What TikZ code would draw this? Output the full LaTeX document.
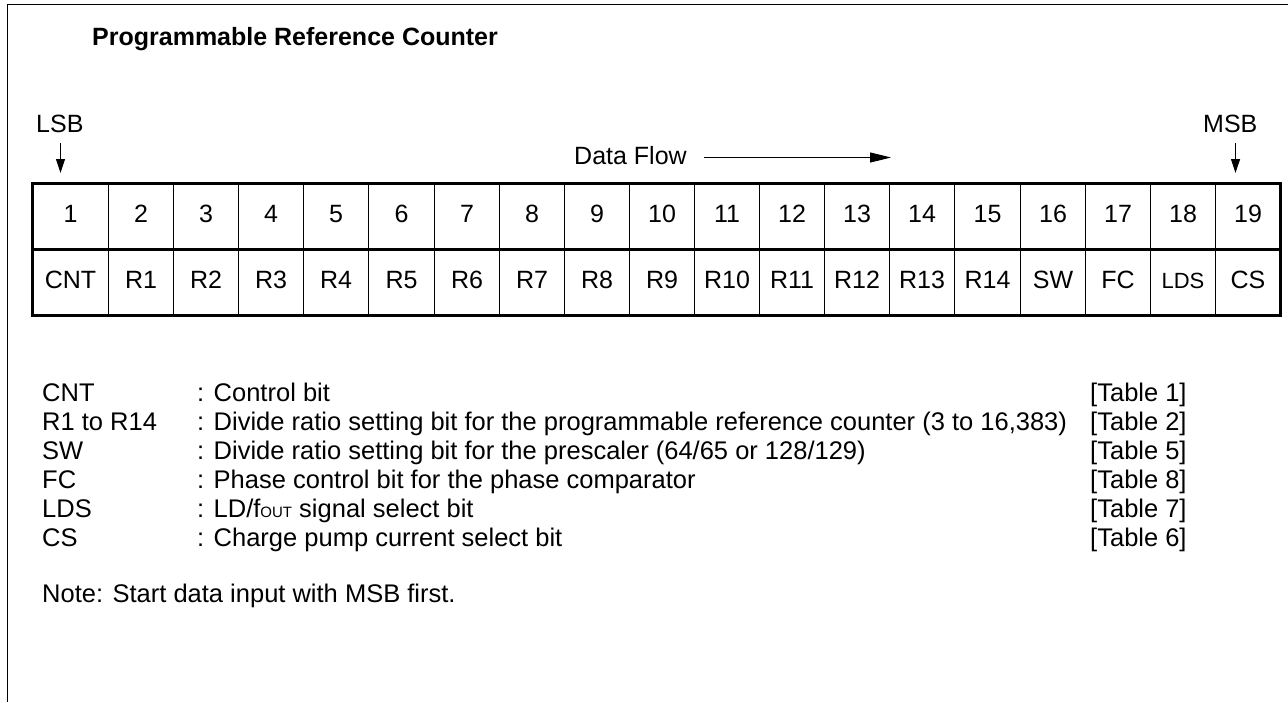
\documentclass[tikz,border=0pt]{standalone}
\usepackage{fontspec}
\setmainfont{Liberation Sans}
\usetikzlibrary{arrows.meta}
\begin{document}
\begin{tikzpicture}[x=1pt,y=-1pt,
  thinline/.style={line width=1pt},
  thickline/.style={line width=3pt},
  arr/.style={line width=1.1pt,-{Triangle[length=14pt,width=9pt]}},
  cell/.style={inner sep=0pt,minimum height=66pt,text height=18pt,text depth=6pt,font=\fontsize{25}{25}\selectfont},
  lab/.style={inner sep=0pt,anchor=base west,font=\fontsize{25.5}{25.5}\selectfont},
  txt/.style={inner sep=0pt,anchor=base west,font=\fontsize{25}{25}\selectfont}]
\useasboundingbox (0,0) rectangle (1288,702);
% frame
\coordinate (fbl) at (7.5,702);
\coordinate (ftl) at (7.5,4.5);
\coordinate (ftr) at (1288,4.5);
\draw[thinline] (fbl) -- (ftl) -- (ftr);
% title
\node[inner sep=0pt,anchor=base west,font=\fontsize{25}{25}\selectfont\bfseries] (title) at (92,45) {Programmable Reference Counter};
% cells
\def\cw{65.111}
\node[cell,minimum width=75pt] (n1) at (70.5,216.5) {1};
\node[cell,minimum width=75pt] (b1) at (70.5,282.5) {CNT};
\foreach \i/\l in {2/R1,3/R2,4/R3,5/R4,6/R5,7/R6,8/R7,9/R8,10/R9,11/R10,12/R11,13/R12,14/R13,15/R14,16/SW,17/FC,18/{\fontsize{22}{22}\selectfont LDS},19/CS}{
  \pgfmathsetmacro{\xl}{round(108+\cw*(\i-2))+0.5}
  \pgfmathsetmacro{\xr}{\i==19 ? 1280.5 : round(108+\cw*(\i-1))+0.5}
  \pgfmathsetmacro{\xc}{(\xl+\xr)/2}
  \pgfmathsetmacro{\cellw}{\xr-\xl}
  \node[cell,minimum width=\cellw pt] (n\i) at (\xc,216.5) {\i};
  \node[cell,minimum width=\cellw pt] (b\i) at (\xc,282.5) {\l};
}
\foreach \i in {1,...,18}{
  \draw[thinline] (n\i.north east) -- (b\i.south east);
}
\draw[thickline] (n1.north west) rectangle (b19.south east);
\draw[thickline] (n1.south west) -- (n19.south east);
% LSB / MSB
\node[txt] (lsb) at (36,132) {LSB};
\node[txt] (msb) at (1203,132) {MSB};
\coordinate (lsbtip) at (60.5,173);
\coordinate (msbtip) at (1235.5,173);
\draw[arr] (lsbtip|-0,143) -- (lsbtip);
\draw[arr] (msbtip|-0,143) -- (msbtip);
% data flow
\node[txt] (df) at (574,164) {Data Flow};
\coordinate (dfstart) at (704,157.5);
\coordinate (dfend) at (891,157.5);
\draw[arr,-{Triangle[length=21pt,width=10pt]}] (dfstart) -- (dfend);
% legend
\node[lab] (k0) at (42,401) {CNT};
\node[lab] (k1) at (42,430) {R1 to R14};
\node[lab] (k2) at (42,459) {SW};
\node[lab] (k3) at (42,488) {FC};
\node[lab] (k4) at (42,517) {LDS};
\node[lab] (k5) at (42,546) {CS};
\node[lab] (d0) at (197,401) {: Control bit};
\node[lab] (d1) at (197,430) {: Divide ratio setting bit for the programmable reference counter (3 to 16,383)};
\node[lab] (d2) at (197,459) {: Divide ratio setting bit for the prescaler (64/65 or 128/129)};
\node[lab] (d3) at (197,488) {: Phase control bit for the phase comparator};
\node[lab] (d4) at (197,517) {: LD/f\raisebox{-0.5pt}{\fontsize{15}{15}\selectfont OUT} signal select bit};
\node[lab] (d5) at (197,546) {: Charge pump current select bit};
\node[lab] (t0) at (1090,401) {[Table 1]};
\node[lab] (t1) at (1090,430) {[Table 2]};
\node[lab] (t2) at (1090,459) {[Table 5]};
\node[lab] (t3) at (1090,488) {[Table 8]};
\node[lab] (t4) at (1090,517) {[Table 7]};
\node[lab] (t5) at (1090,546) {[Table 6]};
\node[lab] (note) at (42,602) {Note: Start data input with MSB first.};
\end{tikzpicture}
\end{document}
